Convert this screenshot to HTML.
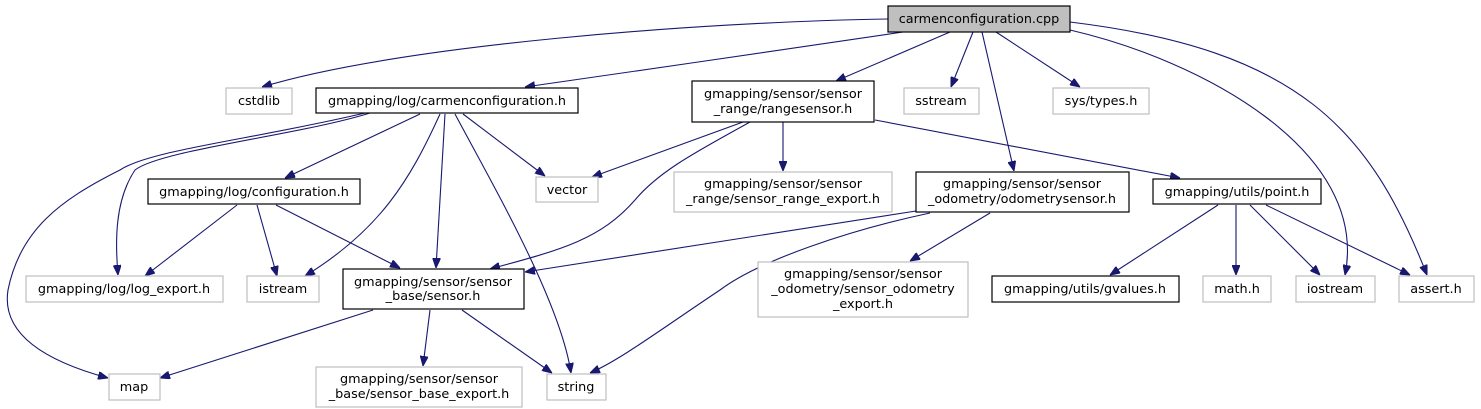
<!DOCTYPE html>
<html><head><meta charset="utf-8"><style>
html,body{margin:0;padding:0;background:#fff;}
svg{display:block;}
text{font-family:"DejaVu Sans","Liberation Sans",sans-serif;font-size:12.8px;fill:#000;}
</style></head><body>
<svg width="1481" height="409" viewBox="0 0 1481 409" xmlns="http://www.w3.org/2000/svg">
<defs>
<marker id="a" markerUnits="userSpaceOnUse" markerWidth="10" markerHeight="8" refX="10" refY="4" orient="auto">
<path d="M0,0 L10,4 L0,8 z" fill="#191970" stroke="#191970"/>
</marker>
</defs>
<g fill="none" stroke="#191970" stroke-width="1.1" marker-end="url(#a)">
<path d="M888,19 C700,22 400,45 262,87"/>
<path d="M903,32 C800,48 640,70 525,87"/>
<path d="M950,32 L836,81"/>
<path d="M973,32 L951,87"/>
<path d="M982,32 L1014,171"/>
<path d="M996,32 L1080,87"/>
<path d="M1070,30 C1200,60 1370,150 1345,275"/>
<path d="M1070,22 C1300,50 1370,130 1427,275"/>
<path d="M370,113 C300,135 160,150 135,170 C115,200 115,240 118,275"/>
<path d="M365,113 C250,140 150,150 120,170 C60,200 20,230 8,290 C0,340 60,365 108,378"/>
<path d="M420,114 L285,178"/>
<path d="M440,114 C410,180 380,230 305,276"/>
<path d="M445,114 L436,268"/>
<path d="M455,114 C490,180 560,300 571,373"/>
<path d="M463,114 L545,176"/>
<path d="M743,122 L592,177"/>
<path d="M783,122 L783,171"/>
<path d="M750,122 C700,150 660,170 635,200 C600,240 560,250 490,269"/>
<path d="M875,120 L1180,178"/>
<path d="M237,205 L145,276"/>
<path d="M257,205 L277,276"/>
<path d="M276,205 L400,268"/>
<path d="M916,211 L525,272"/>
<path d="M930,213 C850,230 760,260 720,290 C660,330 620,360 590,373"/>
<path d="M990,213 L910,261"/>
<path d="M1218,205 L1110,275"/>
<path d="M1236,205 L1236,275"/>
<path d="M1250,205 L1320,275"/>
<path d="M1266,205 L1410,275"/>
<path d="M373,310 L160,378"/>
<path d="M430,310 L423,366"/>
<path d="M462,310 L552,373"/>
</g>
<g stroke-width="1.2">
<rect x="888" y="6" width="182" height="26" fill="#bfbfbf" stroke="#000"/>
<rect x="226" y="88" width="66" height="26" fill="#fff" stroke="#bfbfbf"/>
<rect x="316" y="88" width="262" height="25" fill="#fff" stroke="#000"/>
<rect x="692" y="81" width="182" height="41" fill="#fff" stroke="#000"/>
<rect x="904" y="88" width="75" height="26" fill="#fff" stroke="#bfbfbf"/>
<rect x="1053" y="88" width="96" height="26" fill="#fff" stroke="#bfbfbf"/>
<rect x="148" y="179" width="212" height="25" fill="#fff" stroke="#000"/>
<rect x="536" y="177" width="62" height="25" fill="#fff" stroke="#bfbfbf"/>
<rect x="674" y="172" width="218" height="40" fill="#fff" stroke="#bfbfbf"/>
<rect x="916" y="172" width="213" height="40" fill="#fff" stroke="#000"/>
<rect x="1153" y="179" width="168" height="25" fill="#fff" stroke="#000"/>
<rect x="26" y="276" width="197" height="26" fill="#fff" stroke="#bfbfbf"/>
<rect x="247" y="276" width="72" height="26" fill="#fff" stroke="#bfbfbf"/>
<rect x="343" y="269" width="181" height="40" fill="#fff" stroke="#000"/>
<rect x="758" y="262" width="210" height="55" fill="#fff" stroke="#bfbfbf"/>
<rect x="992" y="276" width="187" height="26" fill="#fff" stroke="#000"/>
<rect x="1203" y="276" width="68" height="26" fill="#fff" stroke="#bfbfbf"/>
<rect x="1296" y="276" width="79" height="26" fill="#fff" stroke="#bfbfbf"/>
<rect x="1399" y="276" width="75" height="26" fill="#fff" stroke="#bfbfbf"/>
<rect x="109" y="374" width="51" height="26" fill="#fff" stroke="#bfbfbf"/>
<rect x="316" y="367" width="206" height="40" fill="#fff" stroke="#bfbfbf"/>
<rect x="547" y="374" width="59" height="26" fill="#fff" stroke="#bfbfbf"/>
</g>
<g text-anchor="middle">
<text x="979" y="23">carmenconfiguration.cpp</text>
<text x="259" y="105">cstdlib</text>
<text x="447" y="105">gmapping/log/carmenconfiguration.h</text>
<text x="783" y="98">gmapping/sensor/sensor</text>
<text x="783" y="113">_range/rangesensor.h</text>
<text x="941" y="105">sstream</text>
<text x="1101" y="105">sys/types.h</text>
<text x="254" y="196">gmapping/log/configuration.h</text>
<text x="567" y="194">vector</text>
<text x="783" y="188">gmapping/sensor/sensor</text>
<text x="783" y="203">_range/sensor_range_export.h</text>
<text x="1022" y="188">gmapping/sensor/sensor</text>
<text x="1022" y="203">_odometry/odometrysensor.h</text>
<text x="1237" y="196">gmapping/utils/point.h</text>
<text x="124" y="293">gmapping/log/log_export.h</text>
<text x="283" y="293">istream</text>
<text x="433" y="286">gmapping/sensor/sensor</text>
<text x="433" y="300">_base/sensor.h</text>
<text x="863" y="278">gmapping/sensor/sensor</text>
<text x="863" y="293">_odometry/sensor_odometry</text>
<text x="863" y="308">_export.h</text>
<text x="1085" y="293">gmapping/utils/gvalues.h</text>
<text x="1237" y="293">math.h</text>
<text x="1335" y="293">iostream</text>
<text x="1436" y="293">assert.h</text>
<text x="134" y="391">map</text>
<text x="419" y="383">gmapping/sensor/sensor</text>
<text x="419" y="398">_base/sensor_base_export.h</text>
<text x="576" y="391">string</text>
</g>
</svg>
</body></html>
